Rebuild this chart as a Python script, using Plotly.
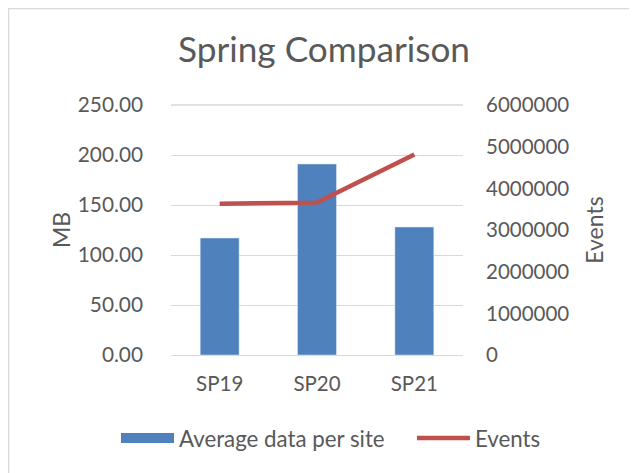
import plotly.graph_objects as go

categories = ["SP19", "SP20", "SP21"]
avg_data_mb = [117, 191, 128]
events = [3633000, 3657000, 4810000]

FONT = "Lato, Open Sans, sans-serif"
GREY = "#595959"
BLUE = "#4f81bd"
RED = "#c0504d"

# page body has an 8px margin; plot area wanted at screen x 171..463, y 105..355
L, T, R, B = 163, 97, 637 - 455, 473 - 347
PW, PH = 455 - 163, 347 - 97

fig = go.Figure()
fig.add_trace(go.Bar(x=categories, y=avg_data_mb, name="Average data per site",
                     marker=dict(color=BLUE), yaxis="y", showlegend=False))
fig.add_trace(go.Scatter(x=[None], y=[None], name="Average data per site", mode="lines",
                         line=dict(color=BLUE, width=12), yaxis="y", showlegend=True,
                         legend="legend"))
fig.add_trace(go.Scatter(x=categories, y=events, name="Events", mode="lines",
                         line=dict(color=RED, width=4.5), yaxis="y2", legend="legend2"))

leg_common = dict(orientation="h", xref="paper", yref="paper", xanchor="left",
                  y=(347 - 430) / PH, yanchor="middle",
                  font=dict(size=22.3, color=GREY), itemwidth=53, bgcolor="rgba(0,0,0,0)")

fig.update_layout(
    width=637, height=473,
    margin=dict(l=L, r=R, t=T, b=B, autoexpand=False),
    paper_bgcolor="white", plot_bgcolor="white",
    font=dict(family=FONT, color=GREY, size=20.5),
    title=dict(text="Spring Comparison", x=(324 - 8) / 637, xanchor="center", xref="container",
               y=1 - 42 / 473, yref="container", yanchor="middle",
               font=dict(size=35.2, color=GREY, family=FONT)),
    bargap=0.6,
    showlegend=True,
    legend=dict(x=(108 - L) / PW, **leg_common),
    legend2=dict(x=(404 - L) / PW, **leg_common),
    xaxis=dict(showgrid=False, showline=False, ticks="", ticklabelstandoff=14,
               automargin=False, tickfont=dict(size=20.5, color=GREY)),
    yaxis=dict(range=[0, 250], dtick=50, tickformat=".2f", showgrid=True,
               gridcolor="#d9d9d9", gridwidth=1.3, zeroline=True, zerolinecolor="#d9d9d9",
               zerolinewidth=1.3, showline=False, ticklabelstandoff=27, automargin=False,
               title=dict(text="MB", standoff=0, font=dict(size=23, color=GREY)),
               tickfont=dict(size=20.8, color=GREY)),
    yaxis2=dict(range=[0, 6000000], dtick=1000000, tickformat="d", overlaying="y",
                side="right", showgrid=False, zeroline=False, showline=False,
                ticklabelstandoff=22, automargin=False,
                title=dict(text="Events", standoff=18, font=dict(size=23, color=GREY)),
                tickfont=dict(size=20.5, color=GREY)),
    shapes=[dict(type="rect", xref="paper", yref="paper",
                 x0=(0.5 - L) / PW, x1=(660 - L) / PW,
                 y0=(347 - 500) / PH, y1=(347 - 0.5) / PH,
                 line=dict(color="#d9d9d9", width=1.5), fillcolor="rgba(0,0,0,0)",
                 layer="below"),
            dict(type="line", xref="paper", yref="paper", x0=0, x1=1, y0=1, y1=1,
                 line=dict(color="#d9d9d9", width=1.3), layer="below")],
)

fig.write_html("out.html")
